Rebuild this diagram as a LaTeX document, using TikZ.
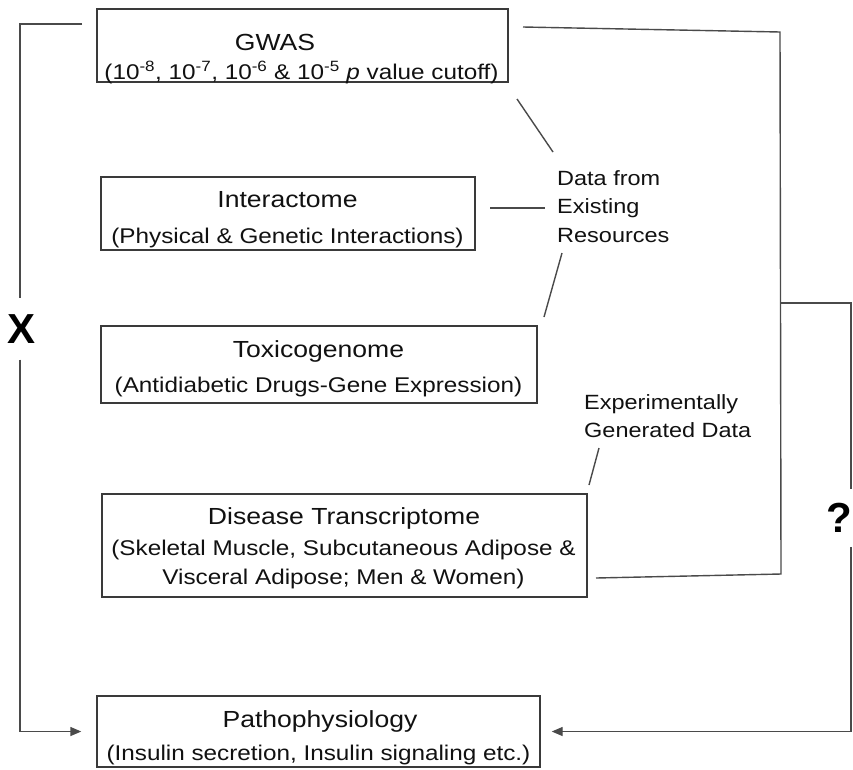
\documentclass[tikz,border=0pt]{standalone}
\usepackage{fontspec}
\setmainfont[FakeStretch=1.14]{Liberation Sans}
\newfontfamily\symfont{Liberation Sans}
\usetikzlibrary{arrows.meta}
\definecolor{linegray}{HTML}{4A4A4A}
\definecolor{boxgray}{HTML}{3A3A3A}
\definecolor{txt}{HTML}{111111}
\tikzset{
  boxnode/.style={draw=boxgray, line width=1.4pt, inner sep=0pt},
  ttl/.style={font=\fontsize{23.3}{28}\selectfont, text=txt, anchor=base, inner sep=0pt},
  sub/.style={font=\fontsize{21.3}{28}\selectfont, text=txt, anchor=base, inner sep=0pt},
  lbl/.style={font=\fontsize{20.6}{28.5}\selectfont, text=txt, align=left, anchor=north west, inner sep=0pt},
  conn/.style={draw=linegray, line width=1.4pt},
  arr/.style={conn, -{Triangle[length=11pt,width=9pt]}},
  bigsym/.style={font=\symfont\bfseries\fontsize{42}{42}\selectfont, text=black, inner xsep=0pt}
}
\begin{document}
\begin{tikzpicture}[x=1pt,y=-1pt]
\useasboundingbox (0,0) rectangle (853,769);
\fill[white] (0,0) rectangle (853,769);

% boxes
\node[boxnode, minimum width=411pt, minimum height=73pt] (gwas) at (302.5,45.5) {};
\node[boxnode, minimum width=374pt, minimum height=73pt] (inter) at (288,213.5) {};
\node[boxnode, minimum width=436pt, minimum height=77pt] (toxi) at (319,364.5) {};
\node[boxnode, minimum width=485pt, minimum height=103pt] (dis) at (344.5,545.5) {};
\node[boxnode, minimum width=443pt, minimum height=71pt] (patho) at (318.5,731.5) {};

% box texts
\node[ttl] (gwasT) at (275,50) {GWAS};
\node[sub] (gwasS) at (301.5,79) {(10\textsuperscript{-8}, 10\textsuperscript{-7}, 10\textsuperscript{-6} \& 10\textsuperscript{-5} \textit{p} value cutoff)};
\node[ttl] (interT) at (287.5,207) {Interactome};
\node[sub] (interS) at (287.5,243) {(Physical \& Genetic Interactions)};
\node[ttl] (toxiT) at (318.5,357) {Toxicogenome};
\node[sub] (toxiS) at (318.5,392) {(Antidiabetic Drugs-Gene Expression)};
\node[ttl] (disT) at (344,524) {Disease Transcriptome};
\node[sub] (disS1) at (343.5,555) {(Skeletal Muscle, Subcutaneous Adipose \&};
\node[sub] (disS2) at (343.5,584) {Visceral Adipose; Men \& Women)};
\node[ttl] (pathoT) at (320,727) {Pathophysiology};
\node[sub] (pathoS) at (318.5,760) {(Insulin secretion, Insulin signaling etc.)};

% labels
\node[lbl] (data) at (557,170) {Data from\\Existing\\Resources};
\node[lbl] (exp) at (584,394) {Experimentally\\Generated Data};

% X and ?
\node[bigsym, inner ysep=16pt] (xmark) at (21.5,329) {X};
\node[bigsym, inner ysep=14pt] (qmark) at (839,518) {?};

% left connector GWAS -X-> Pathophysiology
\coordinate (gl) at (82,24);
\coordinate (gc) at (20,24);
\draw[conn] (gl) -- (gc) -- (gc |- xmark.north);
\draw[arr] (xmark.south -| gc) |- ([xshift=-15pt]patho.west);

% right bracket GWAS ... Disease
\coordinate (ra) at (523,27);
\coordinate (rb) at (780,32);
\coordinate (rc) at (781,574);
\coordinate (rd) at (596,578);
\draw[conn] (ra) -- (rb) -- (rc) -- (rd);

% right connector -?-> Pathophysiology
\coordinate (rj) at (780.5,303);
\coordinate (re) at (851,303);
\draw[conn] (rj) -- (re) -- (re |- qmark.north);
\draw[arr] (qmark.south -| re) |- ([xshift=11pt]patho.east);

% label lines
\coordinate (d1) at (517,99);
\coordinate (d2) at (553,152);
\draw[conn] (d1) -- (d2);
\coordinate (d3) at (490,208);
\coordinate (d4) at (545,208);
\draw[conn] (d3) -- (d4);
\coordinate (d5) at (562,253);
\coordinate (d6) at (544,317);
\draw[conn] (d5) -- (d6);
\coordinate (e1) at (599,448);
\coordinate (e2) at (589,485);
\draw[conn] (e1) -- (e2);
\end{tikzpicture}
\end{document}
